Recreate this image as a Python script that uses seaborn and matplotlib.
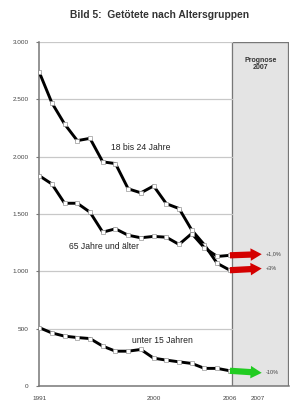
import matplotlib
matplotlib.use("Agg")
import matplotlib.pyplot as plt
import seaborn as sns
import pandas as pd

# Daten
years = list(range(1991, 2007))
age_18_24 = [2740, 2470, 2285, 2140, 2160, 1955, 1940, 1720, 1685, 1745,
             1590, 1548, 1360, 1230, 1070, 1010]
age_65 = [1835, 1762, 1594, 1594, 1516, 1342, 1371, 1315, 1293, 1305,
          1298, 1235, 1330, 1205, 1130, 1140]
age_u15 = [510, 463, 435, 423, 414, 348, 304, 304, 319, 243,
           226, 211, 197, 154, 154, 133]

prog_year = 2008.5
prog_values = [1150, 1025, 115]
prog_labels = ["+1,0%", "+3%", "-10%"]
prog_colors = ["#d40000", "#d40000", "#22cc22"]

series_names = ["18 bis 24 Jahre", "65 Jahre und älter", "unter 15 Jahren"]
yticks = [0, 500, 1000, 1500, 2000, 2500, 3000]
ytick_labels = ["0", "500", "1.000", "1.500", "2.000", "2.500", "3.000"]
xticks = [1991, 2000, 2006, 2008.2]
xtick_labels = ["1991", "2000", "2006", "2007"]

df = pd.DataFrame({
    "Jahr": years * 3,
    "Getoetete": age_18_24 + age_65 + age_u15,
    "Gruppe": [series_names[0]] * 16 + [series_names[1]] * 16 + [series_names[2]] * 16,
})

sns.set_style("white")
plt.rcParams["font.family"] = ["Liberation Sans", "DejaVu Sans"]

fig = plt.figure(figsize=(2.92, 4.12), dpi=100)
ax = fig.add_axes([0.134, 0.063, 0.856, 0.835])

# Prognosebereich
ax.axvspan(2006.15, 2010.65, color="#e4e4e4", zorder=0)
ax.axvline(2006.15, color="#777777", lw=0.9, zorder=1)
ax.axvline(2010.6, color="#777777", lw=0.9, zorder=1)
ax.axhline(3000, xmin=0.77, xmax=1, color="#777777", lw=1.0, zorder=1)
ax.text(2008.4, 2870, "Prognose\n2007", ha="center", va="top", fontsize=5.0,
        fontweight="bold", color="#333333", linespacing=1.0)

for y in yticks[1:]:
    ax.axhline(y, xmax=0.77, color="#c8c8c8", lw=0.9, zorder=1)

sns.lineplot(data=df, x="Jahr", y="Getoetete", units="Gruppe", estimator=None,
             color="black", lw=2.1, marker="s", markersize=2.8,
             markerfacecolor="white", markeredgecolor="#999999",
             markeredgewidth=0.5, ax=ax, zorder=3)

# Prognosepfeile
for start, val, lab, col in zip([age_65[-1], age_18_24[-1], age_u15[-1]],
                                prog_values, prog_labels, prog_colors):
    ax.annotate("", xy=(prog_year, val), xytext=(2006, start),
                arrowprops=dict(arrowstyle="simple,head_length=0.8,head_width=0.9,tail_width=0.45",
                                color=col, lw=0, shrinkA=0, shrinkB=0), zorder=4)
    ax.text(2008.8, val, lab, fontsize=4.0, va="center", ha="left", color="#444444")

ax.text(1999.0, 2080, series_names[0], fontsize=6.2, ha="center", va="center", color="#222222")
ax.text(1996.1, 1215, series_names[1], fontsize=6.2, ha="center", va="center", color="#222222")
ax.text(2000.7, 400, series_names[2], fontsize=6.2, ha="center", va="center", color="#222222")

ax.set_xlim(1991, 2010.65)
ax.set_ylim(0, 3000)
ax.set_yticks(yticks)
ax.set_yticklabels(ytick_labels, fontsize=4.6, color="#444444")
ax.set_xticks(xticks)
ax.set_xticklabels(xtick_labels, fontsize=4.6, color="#444444")
ax.set_xticks(years, minor=True)
ax.tick_params(axis="x", which="minor", length=1.5, color="#777777", direction="in")
ax.tick_params(axis="x", which="major", length=0, pad=7)
ax.tick_params(axis="y", length=2.5, color="#777777", pad=5, left=True)
ax.set_xlabel("")
ax.set_ylabel("")
for side in ["top", "right"]:
    ax.spines[side].set_visible(False)
for side in ["left", "bottom"]:
    ax.spines[side].set_color("#777777")
    ax.spines[side].set_linewidth(1.1)

fig.text(0.545, 0.963, "Bild 5:  Getötete nach Altersgruppen", ha="center", va="center",
         fontsize=7.4, fontweight="bold", color="#333333")

fig.savefig("out.png", dpi=100)
